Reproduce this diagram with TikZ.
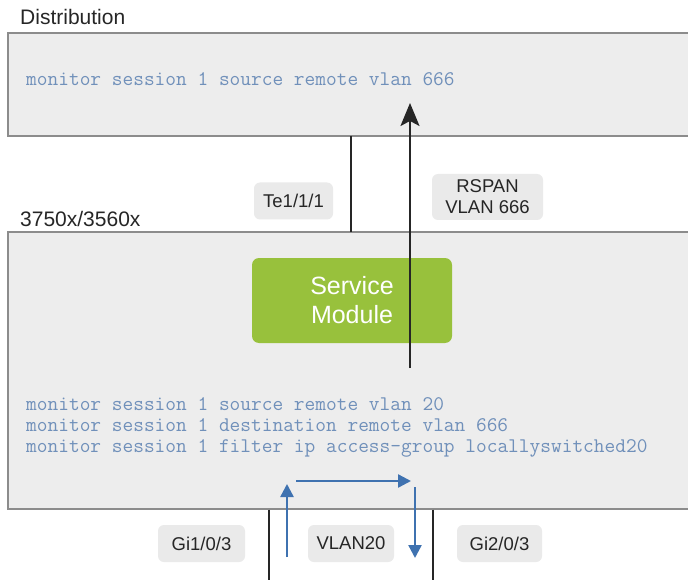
\documentclass[tikz,border=0pt]{standalone}
\usepackage{fontspec}
\setmainfont{Liberation Sans}
\usetikzlibrary{arrows.meta}
\definecolor{panelfill}{HTML}{EDEDED}
\definecolor{panelline}{HTML}{8C8C8C}
\definecolor{labelfill}{HTML}{EAEAEA}
\definecolor{codeblue}{HTML}{7090BA}
\definecolor{flowblue}{HTML}{3F72B0}
\definecolor{modgreen}{HTML}{98C13C}
\tikzset{
  panel/.style={draw=panelline, line width=1.2pt, fill=panelfill, inner sep=0pt, minimum width=692pt},
  tag/.style={fill=labelfill, rounded corners=6pt, inner sep=0pt, minimum height=37pt, font=\fontsize{18.5}{21}\selectfont, text=black!85, align=center},
  title/.style={anchor=base west, inner sep=0pt, font=\fontsize{21}{24}\selectfont, text=black!85},
  code/.style={anchor=base west, inner sep=0pt, font=\ttfamily\fontsize{20.8}{21}\selectfont, text=codeblue},
  link/.style={line width=2pt, black!85},
  flow/.style={line width=2.4pt, flowblue, -{Triangle[width=13pt,length=13pt]}},
}
\begin{document}
\begin{tikzpicture}[x=1pt,y=-1pt]
\useasboundingbox (0,0) rectangle (688,580);
\clip (0,0) rectangle (688,580);
\fill[white] (0,0) rectangle (688,580);
% panels
\node[panel, minimum height=103pt] (dist) at (354,84.5) {};
\node[panel, minimum height=277pt] (sw) at (354,370.5) {};
% titles
\node[title] (distlbl) at (20,25) {Distribution};
\node[title] (swlbl) at (20,227) {3750x/3560x};
% code
\node[code] (c0) at (26,86) {monitor session 1 source remote vlan 666};
\node[code] (c1) at (26,410) {monitor session 1 source remote vlan 20};
\node[code] (c2) at (26,431) {monitor session 1 destination remote vlan 666};
\node[code] (c3) at (26,452) {monitor session 1 filter ip access-group locallyswitched20};
% service module
\node[fill=modgreen, rounded corners=7pt, minimum width=200pt, minimum height=85pt, inner sep=0pt,
      text=white, align=center, font=\fontsize{25}{29}\selectfont] (sm) at (352,300.5) {Service\\Module};
% labels
\node[tag, minimum width=79pt] (te) at (293.5,201) {Te1/1/1};
\node[tag, minimum width=111pt, minimum height=46pt] (rspan) at (487.5,197) {RSPAN\\VLAN 666};
\node[tag, minimum width=87pt] (gi1) at (201.5,543.5) {Gi1/0/3};
\node[tag, minimum width=86pt] (vlan) at (351,543.5) {VLAN20};
\node[tag, minimum width=85pt] (gi2) at (499.5,543.5) {Gi2/0/3};
% uplink and rspan
\coordinate (teTop) at (351,136);
\coordinate (teBot) at (351,232);
\draw[link] (teTop) -- (teBot);
\coordinate (rsStart) at (410,368);
\coordinate (rsTip) at (410,103);
\draw[link, -{Stealth[length=23pt,width=19pt,inset=5pt]}] (rsStart) -- (rsTip);
% access ports
\coordinate (p1a) at (269,509.6);
\coordinate (p1b) at (269,585);
\coordinate (p2a) at (433,509.6);
\coordinate (p2b) at (433,585);
\draw[link] (p1a) -- (p1b);
\draw[link] (p2a) -- (p2b);
% local flow
\coordinate (f1a) at (287,557);
\coordinate (f1b) at (287,484);
\coordinate (f2a) at (296,481);
\coordinate (f2b) at (411,481);
\coordinate (f3a) at (415,487);
\coordinate (f3b) at (415,558);
\draw[flow] (f1a) -- (f1b);
\draw[flow] (f2a) -- (f2b);
\draw[flow] (f3a) -- (f3b);
\end{tikzpicture}
\end{document}
